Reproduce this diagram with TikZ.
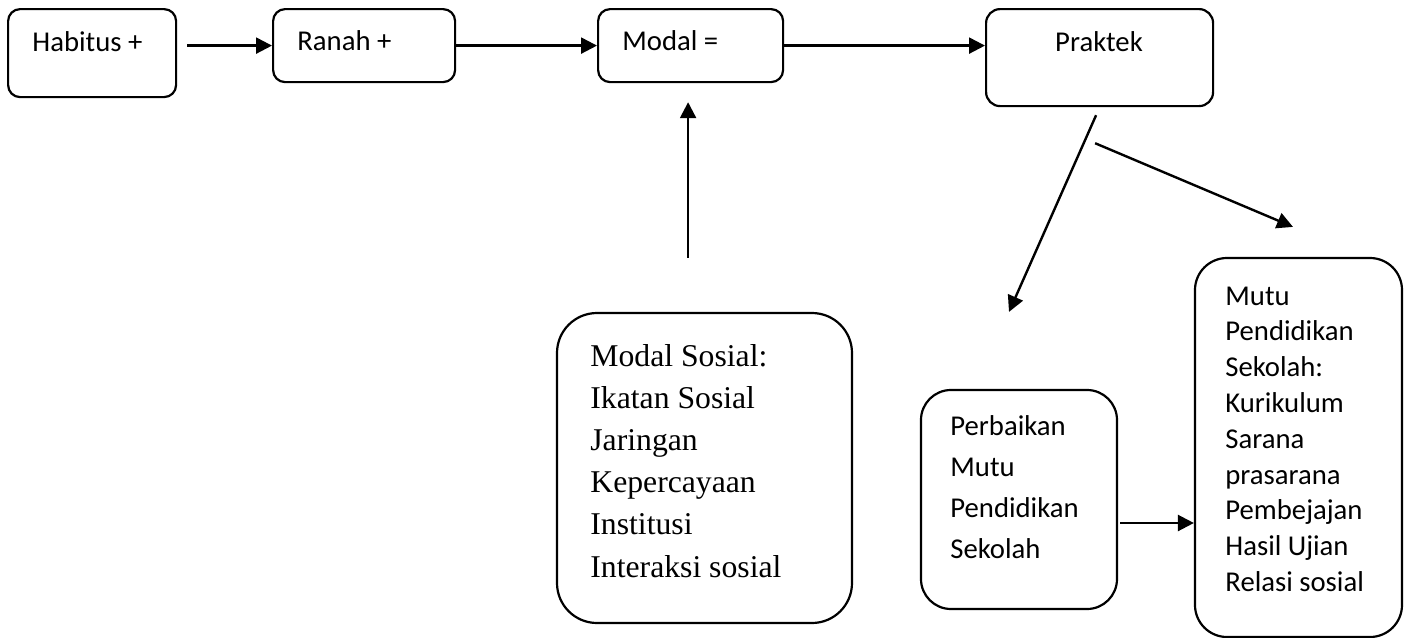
\documentclass[tikz,border=0pt]{standalone}
\usepackage{fontspec}
\setmainfont{Carlito}
\newfontfamily\serifrm{Liberation Serif}
\usetikzlibrary{arrows.meta,positioning}

\begin{document}
\begin{tikzpicture}[x=0.5pt,y=-0.5pt,font=\fontsize{14.35}{17.9}\selectfont,
  bx/.style={rectangle,rounded corners=6pt,draw,line width=1.1pt,inner sep=0pt},
  tx/.style={inner sep=0pt,align=flush left},
  arr/.style={-{Triangle[length=8pt,width=8pt]},line width=1.2pt}]
\useasboundingbox (0,0) rectangle (1405,638);
% top row
\node[bx,minimum width=84pt,minimum height=44pt,anchor=north west] (habitus) at (7,8) {};
\node[bx,minimum width=91pt,minimum height=36.5pt,right=47.4pt of habitus.north east,anchor=north west] (ranah) {};
\node[bx,minimum width=92.5pt,minimum height=36.5pt,right=70.4pt of ranah.north east,anchor=north west] (modal) {};
\node[bx,rounded corners=7pt,minimum width=113.5pt,minimum height=48.5pt,right=100.4pt of modal.north east,anchor=north west] (praktek) {};
\node[tx,anchor=base west] (habitusT) at (32,51) {Habitus +};
\node[tx,anchor=base west] (ranahT) at (297,50) {Ranah +};
\node[tx,anchor=base west] (modalT) at (622,50) {Modal =};
\node[tx,anchor=base] (praktekT) at (1099,51) {Praktek};
% lower boxes
\node[bx,rounded corners=20pt,minimum width=147.5pt,minimum height=155pt] (sosial) at (704.5,468) {};
\node[bx,rounded corners=15pt,minimum width=98pt,minimum height=109.5pt] (perbaikan) at (1019,499.5) {};
\node[bx,rounded corners=16pt,minimum width=103.5pt,minimum height=189.5pt] (mutu) at (1298.5,447.5) {};
\node[tx,anchor=base west,text width=130pt,font=\serifrm\fontsize{15.85}{21.1}\selectfont] (sosialT) at (590,366)
  {Modal Sosial:\\Ikatan Sosial\\Jaringan\\Kepercayaan\\Institusi\\Interaksi sosial};
\node[tx,anchor=base west,text width=80pt,font=\fontsize{14.35}{20.6}\selectfont] (perbaikanT) at (950,435)
  {Perbaikan\\Mutu\\Pendidikan\\Sekolah};
\node[tx,anchor=base west,text width=85pt] (mutuT) at (1225,305)
  {Mutu\\Pendidikan\\Sekolah:\\Kurikulum\\Sarana\\prasarana\\Pembejajan\\Hasil Ujian\\Relasi sosial};
% connectors
\draw[arr,shorten <=5pt] (habitus.east |- ranah.west) -- (ranah.west);
\draw[arr] (ranah.east) -- (modal.west);
\draw[arr] (modal.east) -- (praktek.west |- modal.east);
\draw[arr,shorten <=27pt,shorten >=9.5pt] ([xshift=-1.25pt]modal.south |- sosial.north) -- ([xshift=-1.25pt]modal.south);
\draw[arr] ([xshift=-1.75pt,yshift=-4pt]praktek.south) -- ([xshift=-5pt,yshift=38.5pt]perbaikan.north);
\draw[arr] ([xshift=-2.25pt,yshift=-18pt]praktek.south) -- ([xshift=-2.75pt,yshift=15pt]mutu.north);
\draw[arr] ([xshift=1pt,yshift=-11.75pt]perbaikan.east) -- ([yshift=-11.75pt]perbaikan.east -| mutu.west);
\end{tikzpicture}
\end{document}
